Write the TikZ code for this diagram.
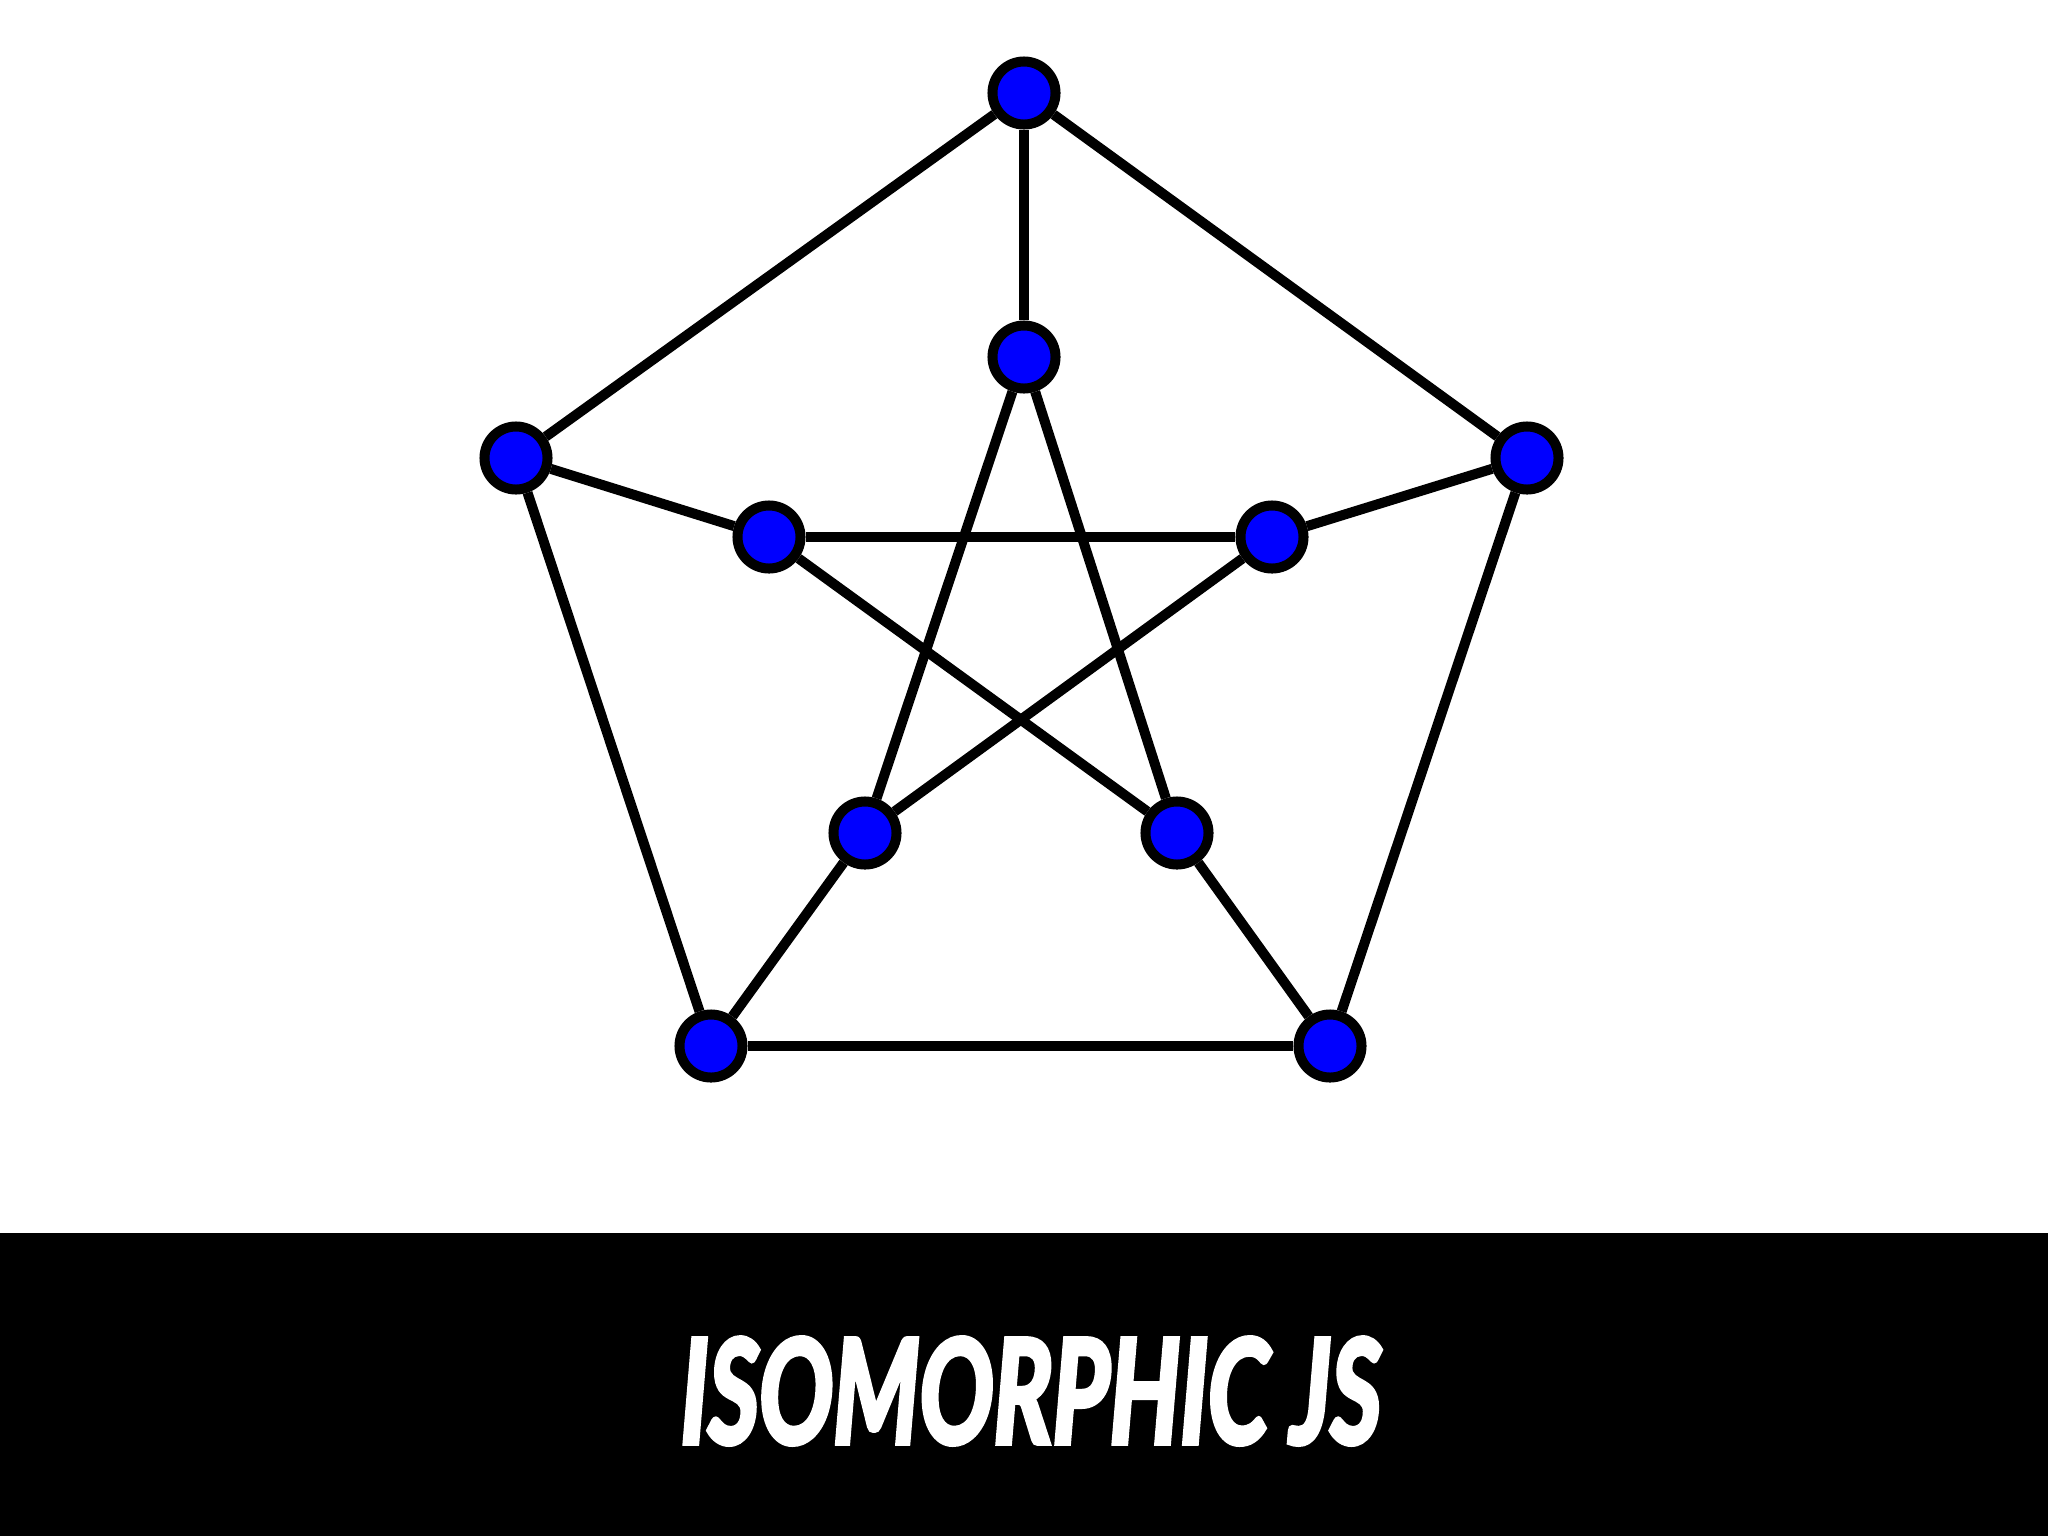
\documentclass[tikz,border=0pt]{standalone}
\usepackage{fontspec}
\usepackage{graphicx}
\usepackage{tikz}
\newfontfamily\bannerfont{Lato}[FakeBold=4]
\tikzstyle{vertex}=[circle, draw, fill=blue, line width=0.1cm, minimum size=0.63cm, inner sep=0pt]
\tikzstyle{edge}=[line width=0.1cm]

\begin{document}
\begin{tikzpicture}[x=0.01cm, y=-0.01cm]
                    \useasboundingbox (0,0) rectangle (2048,1536);
                    \fill[white] (0,0) rectangle (2048,1233);
                    \fill[black] (0,1233) rectangle (2048,1536);
                    % outer ring
                    \node[vertex] (o1) at (1024, 93)  {};
                    \node[vertex] (o2) at (1527, 458) {};
                    \node[vertex] (o3) at (1330,1046) {};
                    \node[vertex] (o4) at (711, 1046) {};
                    \node[vertex] (o5) at (516, 458)  {};
                    % inner star
                    \node[vertex] (i1) at (1024, 357) {};
                    \node[vertex] (i2) at (1272, 537) {};
                    \node[vertex] (i3) at (1177, 833) {};
                    \node[vertex] (i4) at (865,  833) {};
                    \node[vertex] (i5) at (769,  537) {};
                    \draw[edge]  (o1)--(o2);
                    \draw[edge]  (o2)--(o3);
                    \draw[edge]  (o3)--(o4);
                    \draw[edge]  (o4)--(o5);
                    \draw[edge]  (o5)--(o1);
                    \draw[edge]  (o1)--(i1);
                    \draw[edge]  (o2)--(i2);
                    \draw[edge]  (o3)--(i3);
                    \draw[edge]  (o4)--(i4);
                    \draw[edge]  (o5)--(i5);
                    \draw[edge]  (i1)--(i3);
                    \draw[edge]  (i3)--(i5);
                    \draw[edge]  (i5)--(i2);
                    \draw[edge]  (i2)--(i4);
                    \draw[edge]  (i4)--(i1);
                    \node[text=white, inner sep=0pt] (title) at (1031, 1391)
                        {\resizebox{7cm}{1.05cm}{\bannerfont\bfseries\itshape ISOMORPHIC JS}};
                \end{tikzpicture}
\end{document}
